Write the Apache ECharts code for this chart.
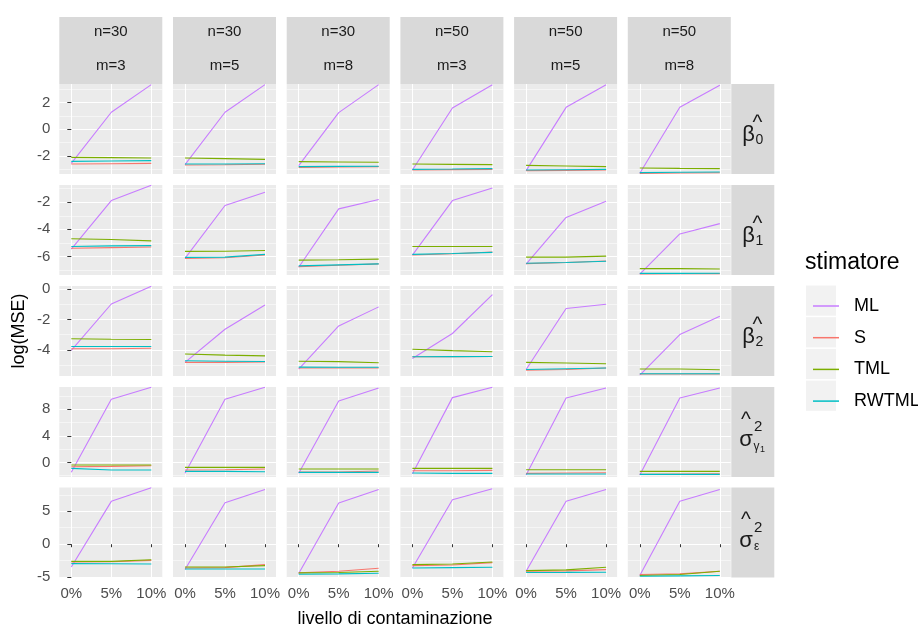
<!DOCTYPE html>
<html><head><meta charset="utf-8">
<script src="https://cdn.jsdelivr.net/npm/echarts@6/dist/echarts.min.js"></script>
<style>html,body{margin:0;padding:0;background:#fff}#c{width:918px;height:627px}</style>
</head><body><div id="c"></div>
<script>
// ---------- data ----------
const xLevels = ['0%', '5%', '10%'];
const xValues = [0, 5, 10];
const nLabels = ['n=30', 'n=30', 'n=30', 'n=50', 'n=50', 'n=50'];
const mLabels = ['m=3', 'm=5', 'm=8', 'm=3', 'm=5', 'm=8'];
const seriesNames = ['ML', 'S', 'TML', 'RWTML'];
const yTicks = [[-2, 0, 2], [-6, -4, -2], [-4, -2, 0], [0, 4, 8], [-5, 0, 5]];
const yMinor = [[-3, -1, 1, 3], [-7, -5, -3, -1], [-5, -3, -1], [-2, 2, 6, 10], [-2.5, 2.5, 7.5]];
const yRange = [[-3.35, 3.4], [-7.37, -0.73], [-5.73, 0.22], [-2.2, 11.35], [-5.05, 8.6]];
const axisTitleY = 'log(MSE)';
const axisTitleX = 'livello di contaminazione';
const legendTitle = 'stimatore';

// rows: beta0, beta1, beta2, sigma2_gamma1, sigma2_eps ; each: 6 panels x [0%,5%,10%]
const ML_b0 = [[-2.55, 1.28, 3.35], [-2.65, 1.28, 3.35], [-2.72, 1.25, 3.35], [-3.05, 1.6, 3.35], [-3.1, 1.65, 3.35], [-3.3, 1.65, 3.3]];
const S_b0 = [[-2.6, -2.58, -2.55], [-2.67, -2.66, -2.62], [-2.85, -2.83, -2.8], [-3.05, -3.02, -3.0], [-3.1, -3.08, -3.05], [-3.3, -3.28, -3.26]];
const TML_b0 = [[-2.1, -2.12, -2.15], [-2.15, -2.2, -2.25], [-2.42, -2.45, -2.47], [-2.6, -2.63, -2.65], [-2.7, -2.75, -2.8], [-2.9, -2.93, -2.95]];
const RW_b0 = [[-2.4, -2.38, -2.35], [-2.6, -2.6, -2.58], [-2.8, -2.78, -2.77], [-3.0, -2.98, -2.95], [-3.05, -3.03, -3.0], [-3.25, -3.22, -3.2]];

const ML_b1 = [[-5.46, -1.88, -0.75], [-6.14, -2.24, -1.27], [-6.8, -2.49, -1.8], [-5.9, -1.88, -0.95], [-6.56, -3.12, -1.93], [-7.3, -4.34, -3.58]];
const S_b1 = [[-5.4, -5.35, -5.3], [-6.15, -6.1, -5.9], [-6.75, -6.65, -6.55], [-5.9, -5.8, -5.67], [-6.53, -6.45, -6.34], [-7.29, -7.28, -7.27]];
const TML_b1 = [[-4.7, -4.75, -4.85], [-5.63, -5.62, -5.56], [-6.27, -6.25, -6.2], [-5.27, -5.27, -5.27], [-6.05, -6.05, -5.98], [-6.9, -6.9, -6.93]];
const RW_b1 = [[-5.27, -5.22, -5.2], [-6.07, -6.05, -5.85], [-6.7, -6.62, -6.55], [-5.85, -5.78, -5.7], [-6.5, -6.45, -6.36], [-7.25, -7.25, -7.24]];

const ML_b2 = [[-4.04, -0.97, 0.2], [-4.83, -2.64, -1.03], [-5.27, -2.42, -1.16], [-4.57, -2.92, -0.35], [-5.3, -1.27, -0.99], [-5.67, -2.99, -1.78]];
const S_b2 = [[-3.93, -3.93, -3.9], [-4.83, -4.83, -4.8], [-5.2, -5.2, -5.2], [-4.46, -4.46, -4.44], [-5.35, -5.3, -5.2], [-5.6, -5.6, -5.6]];
const TML_b2 = [[-3.27, -3.3, -3.32], [-4.28, -4.35, -4.4], [-4.75, -4.78, -4.85], [-3.96, -4.05, -4.13], [-4.83, -4.87, -4.92], [-5.27, -5.27, -5.32]];
const RW_b2 = [[-3.78, -3.78, -3.78], [-4.72, -4.75, -4.77], [-5.14, -5.15, -5.15], [-4.46, -4.45, -4.44], [-5.3, -5.25, -5.2], [-5.58, -5.58, -5.58]];

const ML_sg = [[-1.5, 9.5, 11.3], [-1.65, 9.5, 11.3], [-1.65, 9.25, 11.2], [-1.7, 9.75, 11.3], [-1.9, 9.7, 11.2], [-1.9, 9.7, 11.2]];
const S_sg = [[-0.65, -0.6, -0.5], [-1.15, -1.1, -1.0], [-1.45, -1.45, -1.3], [-1.25, -1.25, -1.2], [-1.65, -1.6, -1.55], [-1.8, -1.75, -1.7]];
const TML_sg = [[-0.4, -0.4, -0.4], [-0.75, -0.75, -0.75], [-1.0, -1.0, -1.0], [-0.9, -0.9, -0.9], [-1.1, -1.1, -1.1], [-1.35, -1.35, -1.35]];
const RW_sg = [[-0.9, -1.15, -1.15], [-1.35, -1.35, -1.4], [-1.5, -1.5, -1.5], [-1.6, -1.65, -1.65], [-1.75, -1.75, -1.75], [-1.8, -1.8, -1.8]];

const ML_se = [[-3.45, 6.5, 8.55], [-3.85, 6.3, 8.3], [-4.45, 6.25, 8.3], [-3.6, 6.75, 8.4], [-4.1, 6.5, 8.3], [-4.75, 6.5, 8.3]];
const S_se = [[-2.7, -2.65, -2.45], [-3.6, -3.55, -3.1], [-4.35, -4.1, -3.65], [-3.25, -3.15, -2.8], [-4.1, -4.05, -3.85], [-4.6, -4.5, -4.1]];
const TML_se = [[-2.6, -2.6, -2.35], [-3.45, -3.45, -3.25], [-4.35, -4.3, -4.1], [-3.1, -3.0, -2.7], [-4.0, -3.9, -3.5], [-4.75, -4.6, -4.1]];
const RW_se = [[-2.95, -2.97, -3.0], [-3.75, -3.75, -3.75], [-4.55, -4.5, -4.4], [-3.6, -3.55, -3.5], [-4.3, -4.28, -4.25], [-4.85, -4.8, -4.75]];

// ---------- layout / style ----------
const FONT = '"Liberation Sans", Arial, sans-serif';
const seriesColors = ['#C77CFF', '#F8766D', '#7CAE00', '#00BFC4'];
const rowData = [
  [ML_b0, S_b0, TML_b0, RW_b0],
  [ML_b1, S_b1, TML_b1, RW_b1],
  [ML_b2, S_b2, TML_b2, RW_b2],
  [ML_sg, S_sg, TML_sg, RW_sg],
  [ML_se, S_se, TML_se, RW_se]
];
const colLeft0 = 59.3, colStep = 113.7, panelW = 103;
const rowTops = [84, 185, 286, 387, 487.5], panelH = 90;
const stripTop = 17;

const grids = [], xAxes = [], yAxes = [], series = [];
for (let r = 0; r < 5; r++) {
  for (let c = 0; c < 6; c++) {
    const g = r * 6 + c;
    grids.push({
      left: colLeft0 + c * colStep, top: rowTops[r], width: panelW, height: panelH,
      show: true, backgroundColor: '#EBEBEB', borderWidth: 0
    });
    xAxes.push({
      gridIndex: g, type: 'value', min: -1.5, max: 11.375,
      axisLine: { show: false },
      axisTick: { show: r === 4, length: 3, customValues: xValues, lineStyle: { color: '#333333', width: 1 } },
      axisLabel: { show: r === 4, customValues: xValues, margin: 9, fontSize: 15, color: '#4D4D4D', fontFamily: FONT,
        formatter: v => xLevels[xValues.indexOf(v)] },
      splitLine: { show: true, lineStyle: { color: '#FFFFFF', width: 1.1 } }
    });
    yAxes.push({
      gridIndex: g, type: 'value', min: yRange[r][0], max: yRange[r][1],
      axisLine: { show: false },
      axisTick: { show: c === 0, length: 4, customValues: yTicks[r], lineStyle: { color: '#333333', width: 1 } },
      axisLabel: { show: c === 0, customValues: yTicks[r], margin: 9, fontSize: 15, color: '#4D4D4D', fontFamily: FONT },
      splitLine: { show: true, lineStyle: { color: '#FFFFFF', width: 1.1 } }
    });
    yAxes.push({
      gridIndex: g, type: 'value', min: yRange[r][0], max: yRange[r][1],
      axisLine: { show: false },
      axisTick: { show: false, customValues: yMinor[r] },
      axisLabel: { show: false, customValues: yMinor[r] },
      splitLine: { show: true, lineStyle: { color: '#FFFFFF', width: 0.5 } }
    });
    for (let k = 0; k < 4; k++) {
      series.push({
        name: seriesNames[k], type: 'line', xAxisIndex: g, yAxisIndex: 2 * g,
        data: rowData[r][k][c].map((v, i) => [xValues[i], v]),
        showSymbol: false, symbol: 'none', silent: true,
        lineStyle: { color: seriesColors[k], width: 1.1 }, itemStyle: { color: seriesColors[k] },
        z: 3 + k
      });
    }
  }
}

// strips and decorations
const graphics = [];
for (let c = 0; c < 6; c++) {
  const x = colLeft0 + c * colStep;
  graphics.push({ type: 'rect', shape: { x: x, y: stripTop, width: panelW, height: rowTops[0] - stripTop }, style: { fill: '#D9D9D9' }, z: 0 });
  graphics.push({ type: 'text', x: x + panelW / 2, y: 32, style: { text: nLabels[c], fill: '#1A1A1A', font: '15px ' + FONT, align: 'center', verticalAlign: 'middle' }, z: 1 });
  graphics.push({ type: 'text', x: x + panelW / 2, y: 66, style: { text: mLabels[c], fill: '#1A1A1A', font: '15px ' + FONT, align: 'center', verticalAlign: 'middle' }, z: 1 });
}
const stripX = colLeft0 + 5 * colStep + panelW + 0.5, stripW = 43;
function t(x, y, text, size, align) {
  return { type: 'text', x: x, y: y, style: { text: text, fill: '#1A1A1A', font: size + 'px ' + FONT, align: align || 'center', verticalAlign: 'middle' }, z: 1 };
}
for (let r = 0; r < 5; r++) {
  graphics.push({ type: 'rect', shape: { x: stripX, y: rowTops[r], width: stripW, height: panelH }, style: { fill: '#D9D9D9' }, z: 0 });
  const cy = rowTops[r] + panelH / 2;
  if (r < 3) {
    graphics.push(t(757.5, cy - 6, '^', 21));
    graphics.push(t(748.5, cy + 6, 'β', 22));
    graphics.push(t(755.5, cy + 11, String(r), 14, 'left'));
  } else {
    graphics.push(t(746, cy - 12, '^', 21));
    graphics.push(t(746, cy + 8, 'σ', 22));
    graphics.push(t(754, cy - 5, '2', 15, 'left'));
    if (r === 3) {
      graphics.push(t(753.5, cy + 15, 'γ', 12, 'left'));
      graphics.push(t(760, cy + 18, '1', 9, 'left'));
    } else {
      graphics.push(t(754, cy + 14, 'ε', 12, 'left'));
    }
  }
}
// legend keys backgrounds + title
for (let k = 0; k < 4; k++) {
  graphics.push({ type: 'rect', shape: { x: 806, y: 285.5 + k * 31.7, width: 30, height: 30.2 }, style: { fill: '#F2F2F2' }, z: 0 });
}
graphics.push({ type: 'text', x: 805, y: 263, style: { text: legendTitle, fill: '#000000', font: '23px ' + FONT, align: 'left', verticalAlign: 'middle' }, z: 1 });
// axis titles
graphics.push({ type: 'text', x: 395, y: 619, style: { text: axisTitleX, fill: '#000000', font: '18px ' + FONT, align: 'center', verticalAlign: 'middle' }, z: 1 });
graphics.push({ type: 'text', x: 19, y: 331, rotation: Math.PI / 2, style: { text: axisTitleY, fill: '#000000', font: '18px ' + FONT, align: 'center', verticalAlign: 'middle' }, z: 1 });

const option = {
  animation: false,
  backgroundColor: '#FFFFFF',
  grid: grids, xAxis: xAxes, yAxis: yAxes, series: series,
  legend: {
    data: seriesNames, orient: 'vertical', left: 808, top: 286,
    icon: 'rect', itemWidth: 26, itemHeight: 1.5, itemGap: 1.7,
    textStyle: { fontSize: 18, color: '#000000', fontFamily: FONT, lineHeight: 30, padding: [0, 0, 0, 10] },
    selectedMode: false
  },
  graphic: { elements: graphics }
};
const chart = echarts.init(document.getElementById('c'), null, { renderer: 'canvas' });
chart.setOption(option);
</script>
</body></html>
